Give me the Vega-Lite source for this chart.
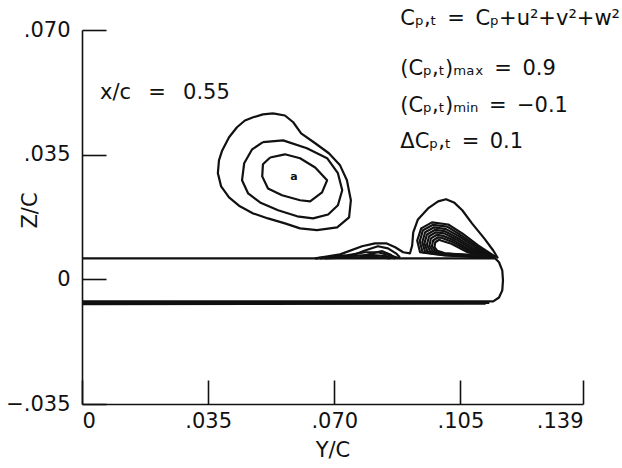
{
  "$schema": "https://vega.github.io/schema/vega-lite/v6.json",
  "autosize": {"type": "none"},
  "padding": {"left": 82, "top": 30, "right": 39, "bottom": 64},
  "width": 501,
  "height": 374,
  "background": "white",
  "view": {"stroke": null},
  "config": {
    "axis": {
      "grid": false,
      "domainColor": "#111",
      "domainWidth": 1.6,
      "tickColor": "#111",
      "tickWidth": 1.6,
      "tickSize": -24,
      "labelFont": "DejaVu Sans",
      "labelFontSize": 21,
      "labelColor": "#111",
      "titleFont": "DejaVu Sans",
      "titleFontSize": 21,
      "titleFontWeight": "normal",
      "titleColor": "#111",
      "labelExpr": "datum.value == 0 ? '0' : replace(format(datum.value, '.3f'), '0.', '.')"
    }
  },
  "datasets": {
    "contours": [
      {"id": "v1", "i": 0, "yc": 0.0530, "zc": 0.0466},
      {"id": "v1", "i": 1, "yc": 0.0563, "zc": 0.0460},
      {"id": "v1", "i": 2, "yc": 0.0586, "zc": 0.0441},
      {"id": "v1", "i": 3, "yc": 0.0608, "zc": 0.0410},
      {"id": "v1", "i": 4, "yc": 0.0647, "zc": 0.0382},
      {"id": "v1", "i": 5, "yc": 0.0685, "zc": 0.0354},
      {"id": "v1", "i": 6, "yc": 0.0716, "zc": 0.0320},
      {"id": "v1", "i": 7, "yc": 0.0735, "zc": 0.0278},
      {"id": "v1", "i": 8, "yc": 0.0746, "zc": 0.0222},
      {"id": "v1", "i": 9, "yc": 0.0741, "zc": 0.0174},
      {"id": "v1", "i": 10, "yc": 0.0708, "zc": 0.0146},
      {"id": "v1", "i": 11, "yc": 0.0652, "zc": 0.0138},
      {"id": "v1", "i": 12, "yc": 0.0605, "zc": 0.0143},
      {"id": "v1", "i": 13, "yc": 0.0563, "zc": 0.0157},
      {"id": "v1", "i": 14, "yc": 0.0516, "zc": 0.0171},
      {"id": "v1", "i": 15, "yc": 0.0475, "zc": 0.0185},
      {"id": "v1", "i": 16, "yc": 0.0438, "zc": 0.0205},
      {"id": "v1", "i": 17, "yc": 0.0408, "zc": 0.0230},
      {"id": "v1", "i": 18, "yc": 0.0386, "zc": 0.0261},
      {"id": "v1", "i": 19, "yc": 0.0377, "zc": 0.0298},
      {"id": "v1", "i": 20, "yc": 0.0380, "zc": 0.0334},
      {"id": "v1", "i": 21, "yc": 0.0389, "zc": 0.0362},
      {"id": "v1", "i": 22, "yc": 0.0408, "zc": 0.0399},
      {"id": "v1", "i": 23, "yc": 0.0430, "zc": 0.0427},
      {"id": "v1", "i": 24, "yc": 0.0452, "zc": 0.0446},
      {"id": "v1", "i": 25, "yc": 0.0475, "zc": 0.0455},
      {"id": "v1", "i": 26, "yc": 0.0502, "zc": 0.0463},
      {"id": "v1", "i": 27, "yc": 0.0530, "zc": 0.0466},

      {"id": "v2", "i": 0, "yc": 0.0502, "zc": 0.0385},
      {"id": "v2", "i": 1, "yc": 0.0558, "zc": 0.0390},
      {"id": "v2", "i": 2, "yc": 0.0624, "zc": 0.0368},
      {"id": "v2", "i": 3, "yc": 0.0680, "zc": 0.0340},
      {"id": "v2", "i": 4, "yc": 0.0710, "zc": 0.0298},
      {"id": "v2", "i": 5, "yc": 0.0722, "zc": 0.0250},
      {"id": "v2", "i": 6, "yc": 0.0710, "zc": 0.0208},
      {"id": "v2", "i": 7, "yc": 0.0683, "zc": 0.0182},
      {"id": "v2", "i": 8, "yc": 0.0641, "zc": 0.0171},
      {"id": "v2", "i": 9, "yc": 0.0597, "zc": 0.0177},
      {"id": "v2", "i": 10, "yc": 0.0544, "zc": 0.0194},
      {"id": "v2", "i": 11, "yc": 0.0494, "zc": 0.0216},
      {"id": "v2", "i": 12, "yc": 0.0461, "zc": 0.0241},
      {"id": "v2", "i": 13, "yc": 0.0444, "zc": 0.0278},
      {"id": "v2", "i": 14, "yc": 0.0450, "zc": 0.0326},
      {"id": "v2", "i": 15, "yc": 0.0472, "zc": 0.0365},
      {"id": "v2", "i": 16, "yc": 0.0502, "zc": 0.0385},

      {"id": "v3", "i": 0, "yc": 0.0522, "zc": 0.0342},
      {"id": "v3", "i": 1, "yc": 0.0563, "zc": 0.0351},
      {"id": "v3", "i": 2, "yc": 0.0605, "zc": 0.0340},
      {"id": "v3", "i": 3, "yc": 0.0647, "zc": 0.0314},
      {"id": "v3", "i": 4, "yc": 0.0680, "zc": 0.0278},
      {"id": "v3", "i": 5, "yc": 0.0666, "zc": 0.0244},
      {"id": "v3", "i": 6, "yc": 0.0633, "zc": 0.0219},
      {"id": "v3", "i": 7, "yc": 0.0605, "zc": 0.0222},
      {"id": "v3", "i": 8, "yc": 0.0555, "zc": 0.0236},
      {"id": "v3", "i": 9, "yc": 0.0516, "zc": 0.0255},
      {"id": "v3", "i": 10, "yc": 0.0500, "zc": 0.0289},
      {"id": "v3", "i": 11, "yc": 0.0502, "zc": 0.0323},
      {"id": "v3", "i": 12, "yc": 0.0522, "zc": 0.0342},

      {"id": "b0", "i": 0, "yc": 0.0647, "zc": 0.0059},
      {"id": "b0", "i": 1, "yc": 0.0716, "zc": 0.0070},
      {"id": "b0", "i": 2, "yc": 0.0777, "zc": 0.0093},
      {"id": "b0", "i": 3, "yc": 0.0813, "zc": 0.0101},
      {"id": "b0", "i": 4, "yc": 0.0844, "zc": 0.0101},
      {"id": "b0", "i": 5, "yc": 0.0869, "zc": 0.0090},
      {"id": "b0", "i": 6, "yc": 0.0891, "zc": 0.0076},
      {"id": "b0", "i": 7, "yc": 0.0910, "zc": 0.0073},
      {"id": "b0", "i": 8, "yc": 0.0916, "zc": 0.0095},
      {"id": "b0", "i": 9, "yc": 0.0919, "zc": 0.0132},
      {"id": "b0", "i": 10, "yc": 0.0932, "zc": 0.0168},
      {"id": "b0", "i": 11, "yc": 0.0960, "zc": 0.0199},
      {"id": "b0", "i": 12, "yc": 0.0988, "zc": 0.0219},
      {"id": "b0", "i": 13, "yc": 0.1010, "zc": 0.0225},
      {"id": "b0", "i": 14, "yc": 0.1032, "zc": 0.0216},
      {"id": "b0", "i": 15, "yc": 0.1055, "zc": 0.0194},
      {"id": "b0", "i": 16, "yc": 0.1082, "zc": 0.0157},
      {"id": "b0", "i": 17, "yc": 0.1116, "zc": 0.0115},
      {"id": "b0", "i": 18, "yc": 0.1141, "zc": 0.0081},
      {"id": "b0", "i": 19, "yc": 0.1154, "zc": 0.0059},

      {"id": "h1", "i": 0, "yc": 0.0744, "zc": 0.0065},
      {"id": "h1", "i": 1, "yc": 0.0785, "zc": 0.0081},
      {"id": "h1", "i": 2, "yc": 0.0821, "zc": 0.0093},
      {"id": "h1", "i": 3, "yc": 0.0849, "zc": 0.0087},
      {"id": "h1", "i": 4, "yc": 0.0871, "zc": 0.0073},
      {"id": "h1", "i": 5, "yc": 0.0882, "zc": 0.0062},

      {"id": "h2", "i": 0, "yc": 0.0771, "zc": 0.0062},
      {"id": "h2", "i": 1, "yc": 0.0805, "zc": 0.0073},
      {"id": "h2", "i": 2, "yc": 0.0833, "zc": 0.0079},
      {"id": "h2", "i": 3, "yc": 0.0855, "zc": 0.0070},
      {"id": "h2", "i": 4, "yc": 0.0866, "zc": 0.0062},

      {"id": "w1", "i": 0, "yc": 0.0647, "zc": 0.0059},
      {"id": "w1", "i": 1, "yc": 0.0730, "zc": 0.0067},
      {"id": "w1", "i": 2, "yc": 0.0785, "zc": 0.0076},
      {"id": "w1", "i": 3, "yc": 0.0821, "zc": 0.0076},
      {"id": "w1", "i": 4, "yc": 0.0855, "zc": 0.0067},
      {"id": "w1", "i": 5, "yc": 0.0882, "zc": 0.0059},

      {"id": "w2", "i": 0, "yc": 0.0660, "zc": 0.0059},
      {"id": "w2", "i": 1, "yc": 0.0744, "zc": 0.0065},
      {"id": "w2", "i": 2, "yc": 0.0799, "zc": 0.0069},
      {"id": "w2", "i": 3, "yc": 0.0841, "zc": 0.0065},
      {"id": "w2", "i": 4, "yc": 0.0869, "zc": 0.0059},

      {"id": "w3", "i": 0, "yc": 0.0674, "zc": 0.0059},
      {"id": "w3", "i": 1, "yc": 0.0758, "zc": 0.0062},
      {"id": "w3", "i": 2, "yc": 0.0813, "zc": 0.0063},
      {"id": "w3", "i": 3, "yc": 0.0855, "zc": 0.0059},

      {"id": "L0", "i": 0, "yc": 0.1149, "zc": 0.0062},
      {"id": "L0", "i": 1, "yc": 0.1099, "zc": 0.0095},
      {"id": "L0", "i": 2, "yc": 0.1055, "zc": 0.0129},
      {"id": "L0", "i": 3, "yc": 0.1016, "zc": 0.0154},
      {"id": "L0", "i": 4, "yc": 0.0971, "zc": 0.0160},
      {"id": "L0", "i": 5, "yc": 0.0941, "zc": 0.0143},
      {"id": "L0", "i": 6, "yc": 0.0930, "zc": 0.0109},
      {"id": "L0", "i": 7, "yc": 0.0938, "zc": 0.0076},
      {"id": "L0", "i": 8, "yc": 0.1007, "zc": 0.0067},
      {"id": "L0", "i": 9, "yc": 0.1091, "zc": 0.0063},
      {"id": "L0", "i": 10, "yc": 0.1149, "zc": 0.0062},

      {"id": "L1", "i": 0, "yc": 0.1146, "zc": 0.0062},
      {"id": "L1", "i": 1, "yc": 0.1095, "zc": 0.0093},
      {"id": "L1", "i": 2, "yc": 0.1050, "zc": 0.0125},
      {"id": "L1", "i": 3, "yc": 0.1013, "zc": 0.0148},
      {"id": "L1", "i": 4, "yc": 0.0974, "zc": 0.0153},
      {"id": "L1", "i": 5, "yc": 0.0946, "zc": 0.0138},
      {"id": "L1", "i": 6, "yc": 0.0937, "zc": 0.0107},
      {"id": "L1", "i": 7, "yc": 0.0945, "zc": 0.0076},
      {"id": "L1", "i": 8, "yc": 0.1007, "zc": 0.0068},
      {"id": "L1", "i": 9, "yc": 0.1091, "zc": 0.0064},
      {"id": "L1", "i": 10, "yc": 0.1146, "zc": 0.0062},

      {"id": "L2", "i": 0, "yc": 0.1143, "zc": 0.0062},
      {"id": "L2", "i": 1, "yc": 0.1091, "zc": 0.0090},
      {"id": "L2", "i": 2, "yc": 0.1046, "zc": 0.0121},
      {"id": "L2", "i": 3, "yc": 0.1010, "zc": 0.0141},
      {"id": "L2", "i": 4, "yc": 0.0977, "zc": 0.0146},
      {"id": "L2", "i": 5, "yc": 0.0952, "zc": 0.0132},
      {"id": "L2", "i": 6, "yc": 0.0944, "zc": 0.0104},
      {"id": "L2", "i": 7, "yc": 0.0952, "zc": 0.0077},
      {"id": "L2", "i": 8, "yc": 0.1007, "zc": 0.0069},
      {"id": "L2", "i": 9, "yc": 0.1091, "zc": 0.0064},
      {"id": "L2", "i": 10, "yc": 0.1143, "zc": 0.0062},

      {"id": "L3", "i": 0, "yc": 0.1141, "zc": 0.0062},
      {"id": "L3", "i": 1, "yc": 0.1086, "zc": 0.0087},
      {"id": "L3", "i": 2, "yc": 0.1042, "zc": 0.0116},
      {"id": "L3", "i": 3, "yc": 0.1007, "zc": 0.0135},
      {"id": "L3", "i": 4, "yc": 0.0980, "zc": 0.0139},
      {"id": "L3", "i": 5, "yc": 0.0957, "zc": 0.0126},
      {"id": "L3", "i": 6, "yc": 0.0950, "zc": 0.0101},
      {"id": "L3", "i": 7, "yc": 0.0959, "zc": 0.0077},
      {"id": "L3", "i": 8, "yc": 0.1007, "zc": 0.0070},
      {"id": "L3", "i": 9, "yc": 0.1091, "zc": 0.0065},
      {"id": "L3", "i": 10, "yc": 0.1141, "zc": 0.0062},

      {"id": "L4", "i": 0, "yc": 0.1138, "zc": 0.0062},
      {"id": "L4", "i": 1, "yc": 0.1082, "zc": 0.0084},
      {"id": "L4", "i": 2, "yc": 0.1038, "zc": 0.0112},
      {"id": "L4", "i": 3, "yc": 0.1005, "zc": 0.0129},
      {"id": "L4", "i": 4, "yc": 0.0982, "zc": 0.0132},
      {"id": "L4", "i": 5, "yc": 0.0963, "zc": 0.0121},
      {"id": "L4", "i": 6, "yc": 0.0957, "zc": 0.0098},
      {"id": "L4", "i": 7, "yc": 0.0966, "zc": 0.0078},
      {"id": "L4", "i": 8, "yc": 0.1007, "zc": 0.0071},
      {"id": "L4", "i": 9, "yc": 0.1091, "zc": 0.0065},
      {"id": "L4", "i": 10, "yc": 0.1138, "zc": 0.0062},

      {"id": "L5", "i": 0, "yc": 0.1135, "zc": 0.0062},
      {"id": "L5", "i": 1, "yc": 0.1078, "zc": 0.0081},
      {"id": "L5", "i": 2, "yc": 0.1034, "zc": 0.0108},
      {"id": "L5", "i": 3, "yc": 0.1002, "zc": 0.0122},
      {"id": "L5", "i": 4, "yc": 0.0985, "zc": 0.0125},
      {"id": "L5", "i": 5, "yc": 0.0968, "zc": 0.0115},
      {"id": "L5", "i": 6, "yc": 0.0964, "zc": 0.0095},
      {"id": "L5", "i": 7, "yc": 0.0973, "zc": 0.0079},
      {"id": "L5", "i": 8, "yc": 0.1007, "zc": 0.0072},
      {"id": "L5", "i": 9, "yc": 0.1091, "zc": 0.0066},
      {"id": "L5", "i": 10, "yc": 0.1135, "zc": 0.0062},

      {"id": "L6", "i": 0, "yc": 0.1132, "zc": 0.0062},
      {"id": "L6", "i": 1, "yc": 0.1074, "zc": 0.0079},
      {"id": "L6", "i": 2, "yc": 0.1030, "zc": 0.0104},
      {"id": "L6", "i": 3, "yc": 0.0999, "zc": 0.0116},
      {"id": "L6", "i": 4, "yc": 0.0988, "zc": 0.0118},
      {"id": "L6", "i": 5, "yc": 0.0974, "zc": 0.0109},
      {"id": "L6", "i": 6, "yc": 0.0971, "zc": 0.0093},
      {"id": "L6", "i": 7, "yc": 0.0980, "zc": 0.0079},
      {"id": "L6", "i": 8, "yc": 0.1007, "zc": 0.0072},
      {"id": "L6", "i": 9, "yc": 0.1091, "zc": 0.0067},
      {"id": "L6", "i": 10, "yc": 0.1132, "zc": 0.0062},

      {"id": "L7", "i": 0, "yc": 0.1129, "zc": 0.0062},
      {"id": "L7", "i": 1, "yc": 0.1070, "zc": 0.0076},
      {"id": "L7", "i": 2, "yc": 0.1025, "zc": 0.0100},
      {"id": "L7", "i": 3, "yc": 0.0996, "zc": 0.0109},
      {"id": "L7", "i": 4, "yc": 0.0991, "zc": 0.0111},
      {"id": "L7", "i": 5, "yc": 0.0980, "zc": 0.0104},
      {"id": "L7", "i": 6, "yc": 0.0978, "zc": 0.0090},
      {"id": "L7", "i": 7, "yc": 0.0986, "zc": 0.0080},
      {"id": "L7", "i": 8, "yc": 0.1007, "zc": 0.0073},
      {"id": "L7", "i": 9, "yc": 0.1091, "zc": 0.0067},
      {"id": "L7", "i": 10, "yc": 0.1129, "zc": 0.0062},

      {"id": "plate", "i": 0, "yc": 0.0, "zc": 0.0059},
      {"id": "plate", "i": 1, "yc": 0.1146, "zc": 0.0059},
      {"id": "plate", "i": 2, "yc": 0.1157, "zc": 0.0048},
      {"id": "plate", "i": 3, "yc": 0.1166, "zc": 0.0025},
      {"id": "plate", "i": 4, "yc": 0.1168, "zc": -0.0003},
      {"id": "plate", "i": 5, "yc": 0.1166, "zc": -0.0031},
      {"id": "plate", "i": 6, "yc": 0.1157, "zc": -0.0051},
      {"id": "plate", "i": 7, "yc": 0.1141, "zc": -0.0062},
      {"id": "plate", "i": 8, "yc": 0.0, "zc": -0.0062},

      {"id": "p2", "i": 0, "yc": 0.0, "zc": -0.0066},
      {"id": "p2", "i": 1, "yc": 0.1130, "zc": -0.0066},
      {"id": "p3", "i": 0, "yc": 0.0, "zc": -0.0070},
      {"id": "p3", "i": 1, "yc": 0.1120, "zc": -0.0068}
    ],
    "notes": [
      {"yc": 0.0050, "zc": 0.0505, "t": "x/c\u2002 =\u2002 0.55"},
      {"yc": 0.0883, "zc": 0.0713, "t": "Cₚ,ₜ\u2002=\u2002Cₚ+u²+v²+w²"},
      {"yc": 0.0883, "zc": 0.0573, "t": "(Cₚ,ₜ)ₘₐₓ\u2002=\u20020.9"},
      {"yc": 0.0883, "zc": 0.0469, "t": "(Cₚ,ₜ)ₘᵢₙ\u2002=\u2002−0.1"},
      {"yc": 0.0883, "zc": 0.0368, "t": "ΔCₚ,ₜ\u2002=\u20020.1"}
    ],
    "centre": [
      {"yc": 0.0588, "zc": 0.0286, "t": "a"}
    ]
  },
  "layer": [
    {
      "data": {"name": "contours"},
      "mark": {"type": "line", "color": "#111", "strokeWidth": 2.2, "strokeJoin": "round"},
      "encoding": {
        "x": {
          "field": "yc", "type": "quantitative",
          "scale": {"domain": [0, 0.139], "nice": false, "zero": false},
          "axis": {"values": [0, 0.035, 0.07, 0.105, 0.139], "title": "Y/C", "labelPadding": 30, "titlePadding": 8}
        },
        "y": {
          "field": "zc", "type": "quantitative",
          "scale": {"domain": [-0.035, 0.07], "nice": false, "zero": false},
          "axis": {"values": [-0.035, 0, 0.035, 0.07], "title": "Z/C", "labelPadding": 36, "titleX": -52, "titleY": 180, "titleAlign": "center", "titleBaseline": "middle"}
        },
        "detail": {"field": "id"},
        "order": {"field": "i", "type": "quantitative"}
      }
    },
    {
      "data": {"name": "notes"},
      "mark": {"type": "text", "align": "left", "baseline": "alphabetic", "font": "DejaVu Sans", "fontSize": 21, "color": "#111"},
      "encoding": {
        "x": {"field": "yc", "type": "quantitative"},
        "y": {"field": "zc", "type": "quantitative"},
        "text": {"field": "t"}
      }
    },
    {
      "data": {"name": "centre"},
      "mark": {"type": "text", "align": "center", "baseline": "middle", "font": "DejaVu Sans", "fontSize": 11, "fontWeight": "bold", "color": "#111"},
      "encoding": {
        "x": {"field": "yc", "type": "quantitative"},
        "y": {"field": "zc", "type": "quantitative"},
        "text": {"field": "t"}
      }
    }
  ]
}
